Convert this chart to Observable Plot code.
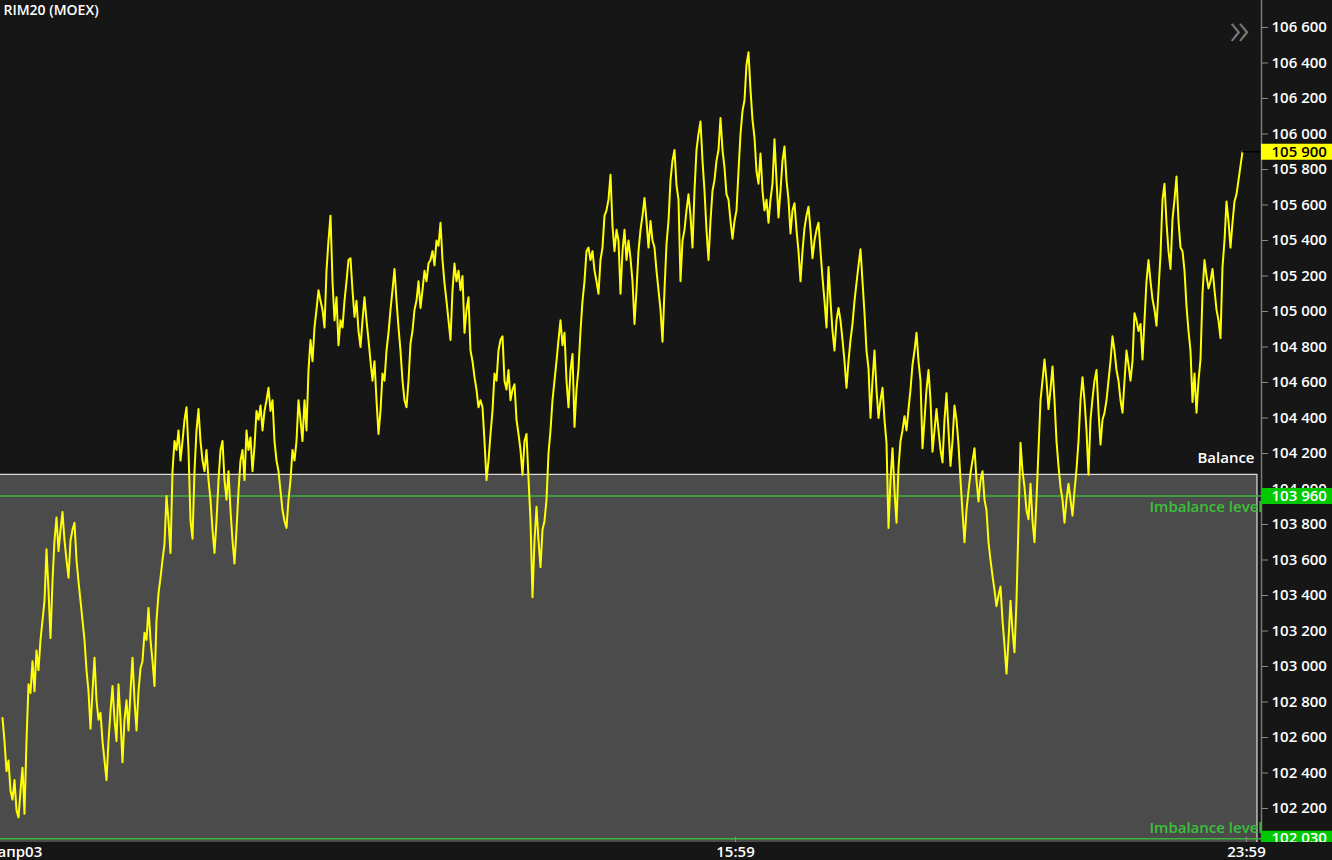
<!DOCTYPE html>
<html><head><meta charset="utf-8">
<script src="https://cdn.jsdelivr.net/npm/d3@7"></script>
<script src="https://cdn.jsdelivr.net/npm/@observablehq/plot@0.6"></script>
<style>html,body{margin:0;padding:0;background:#161616;overflow:hidden}</style>
</head><body><div id="chart"></div>
<script>
const title = "RIM20 (MOEX)";
// price per bar
const prices = [
102710,102580,102410,102470,102300,102250,102360,102190,102150,102300,
102430,102170,102580,102900,102850,103030,102860,103090,102980,103150,
103260,103370,103660,103430,103160,103480,103710,103840,103650,103770,
103870,103710,103600,103500,103710,103770,103810,103600,103480,103370,
103260,103150,102980,102860,102650,102860,103050,102810,102700,102740,
102580,102470,102360,102580,102750,102890,102700,102580,102900,102700,
102460,102700,102810,102640,102860,103050,102810,102640,102860,102990,
103030,103190,103150,103330,103150,103030,102890,103260,103410,103500,
103600,103690,103960,103820,103640,
104100,104270,104220,104330,104160,104270,104390,104460,104220,103820,
103720,104100,104330,104450,104270,104160,104100,104220,104050,103940,
103770,103640,103820,104050,104220,104270,104050,103940,104100,103880,
103710,103580,103770,103990,104160,104220,104050,104330,104220,104290,
104100,104240,104440,104390,104470,104330,104440,104500,104570,104440,
104500,104270,104160,104100,103990,103880,103820,103780,103940,104050,
104220,104160,104270,104500,
104390,104270,104500,104330,104670,104840,104720,104910,105010,105120,
105060,105010,104910,105230,105400,105540,105170,104950,105080,104810,
104950,104910,105060,105170,105290,105300,105120,104970,105060,104890,
104800,104950,105080,104950,104840,104720,104610,104720,104500,104310,
104440,104650,104610,104780,104880,105010,105120,105240,105060,104910,
104780,104610,104500,104460,104610,104820,104890,105010,105060,105170,
105020,105120,105230,105170,105270,105290,105340,105260,105400,105370,
105500,105290,105160,105060,104950,104840,105120,105270,105170,105230,
105120,105200,104880,105010,105080,104780,104720,104630,104560,104460,
104500,104460,104270,104050,104160,104310,104440,104650,104610,104780,
104840,104860,104610,104560,104670,104500,104560,104590,104390,104310,
104220,104080,104270,104310,104060,103820,103390,103710,103900,103710,
103560,103770,103820,103940,104200,104330,104500,104610,104720,104840,
104950,104810,104880,104610,104460,104670,104760,104350,104560,104680,
104890,105060,105170,105340,105360,105290,105340,105230,105170,105100,
105290,105360,105540,105570,105630,105770,105480,105340,105460,105400,
105100,105340,105460,105290,105400,105300,105170,104930,105120,105340,
105460,105540,105640,105510,105360,105510,105400,105360,105230,105120,
105010,104830,105120,105380,105510,105740,105850,105910,105710,105630,
105170,105400,105460,105570,105660,105540,105360,105680,105910,106000,
106070,105850,105680,105460,105290,105510,105680,105740,105850,105910,
106090,105910,105810,105660,105630,105510,105410,105510,105570,105790,
106000,106130,106190,106390,106460,106250,106080,105980,105790,105720,
105890,105680,105570,105630,105500,105630,105720,105970,105740,105530,
105680,105850,105930,105740,105630,105440,105570,105610,105460,105340,
105170,105340,105470,105540,105590,105460,105300,105400,105460,105500,
105340,105190,105060,104910,105250,105060,104890,104780,104950,105020,
104950,104840,104720,104570,104720,104840,104930,105060,105160,105260,
105350,105170,104990,104780,104680,104400,104610,104780,104560,104400,
104500,104570,104390,104260,103780,104050,104230,103990,103810,104120,
104270,
104330,104410,104330,104450,104560,104700,104780,104880,104720,104610,
104230,104390,104560,104670,104500,104210,104330,104450,104330,104220,
104150,104390,104540,104330,104130,104270,104470,104390,104250,104050,
103870,103700,103880,103990,104090,104160,104230,104050,103930,104050,
104100,103940,103880,103700,103600,103510,103430,103340,103400,103450,
103260,103120,102960,103150,103370,103200,103080,103370,103810,104260,
104100,104010,103880,103830,104030,103820,103700,103940,104220,104500,
104610,104730,104610,104450,104560,104690,104500,104270,104130,104010,
103940,103810,103940,104030,103940,103850,103990,104110,104270,104500,
104630,104500,104330,104080,104390,104510,104610,104670,104440,104250,
104390,104430,104500,104610,104720,104860,104780,104670,104610,104500,
104430,104610,104780,104700,104610,104720,104990,104950,104890,104930,
104730,104950,105170,105290,105170,105070,105010,104920,105120,105320,
105630,105720,105500,105340,105240,105520,105630,105760,105510,105360,
105340,105230,105030,104890,104780,104490,104650,104430,104610,104730,
105100,105290,105200,105130,105170,105240,105120,105010,104950,104850,
105250,105400,105620,105510,105360,105500,105620,105660,105740,105820,
105900
];
const lastPrice = 105900;
const balanceLevel = 104080;
const balanceEndBar = 627.5;
const imbalanceLevels = [103960, 102030];
const yTicks = d3.range(102200, 106601, 200);
const xTickLabels = ["апр03", "15:59", "23:59"];
const xTickBars = [-2.5, 366.5, 622];

const BG = "#161616";
const FONT = "'Open Sans', 'Noto Sans', sans-serif";
const xMin = -1, xMax = 629.5;
const yMin = 102008.5, yMax = 106752;
const fmt = d => d3.format(",")(d).replace(/,/g, " ");

const chart = Plot.plot({
  width: 1332, height: 860,
  marginLeft: 0, marginRight: 71, marginTop: 0, marginBottom: 18,
  style: {background: BG, color: "white", fontFamily: FONT},
  x: {domain: [xMin, xMax], axis: null},
  y: {domain: [yMin, yMax], axis: null},
  marks: [
    Plot.rect([balanceLevel], {x1: xMin - 5, x2: balanceEndBar, y1: d => d, y2: yMin - 100,
      fill: "#4b4b4b", stroke: "#ffffff", strokeWidth: 1, clip: true}),
    Plot.ruleY(imbalanceLevels, {stroke: "#3cb43c", strokeWidth: 1.5, clip: true}),
    Plot.line(prices, {x: (d, i) => i, y: d => d, stroke: "#ffff00", strokeWidth: 2, clip: true}),
    Plot.ruleY([lastPrice], {x1: prices.length - 1, x2: xMax, stroke: "#000000", strokeWidth: 1.5}),
    Plot.text(["Balance"], {x: balanceEndBar, y: balanceLevel, text: d => d, textAnchor: "end",
      lineAnchor: "middle", dx: -3, dy: -17, fill: "#ffffff", fontSize: 15, fontWeight: 600}),
    Plot.text([imbalanceLevels[0]], {x: xMax, y: d => d, text: () => "Imbalance level", textAnchor: "end",
      lineAnchor: "middle", dx: 1, dy: 11, fill: "#3cc03c", fontSize: 15, fontWeight: 600, clip: true}),
    Plot.text([imbalanceLevels[1]], {x: xMax, y: d => d, text: () => "Imbalance level", textAnchor: "end",
      lineAnchor: "middle", dx: 1, dy: -10, fill: "#3cc03c", fontSize: 15, fontWeight: 600, clip: true}),
    Plot.ruleX([xMax], {stroke: "#7a7a7a", strokeWidth: 1.5}),
    Plot.axisY(yTicks, {anchor: "right", tickSize: 6, tickPadding: 4, tickFormat: fmt, label: null,
      stroke: "#8a8a8a", fill: "#ffffff", fontSize: 15, fontWeight: 600}),
    Plot.ruleY([lastPrice], {x1: xMax, x2: xMax + 40, stroke: "#ffff00", strokeWidth: 16}),
    Plot.text([lastPrice], {x: xMax, y: d => d, text: fmt, dx: 10, textAnchor: "start",
      lineAnchor: "middle", fill: "#000000", fontSize: 15, fontWeight: 600}),
    Plot.ruleY(imbalanceLevels, {x1: xMax, x2: xMax + 40, stroke: "#00c800", strokeWidth: 16}),
    Plot.text(imbalanceLevels, {x: xMax, y: d => d, text: fmt, dx: 10, textAnchor: "start",
      lineAnchor: "middle", fill: "#ffffff", fontSize: 15, fontWeight: 600}),
    Plot.rect([0], {x1: xMax, x2: xMax + 40, y1: yMin - 200, y2: yMin, fill: BG}),
    Plot.ruleX(xTickBars.slice(1), {y1: yMin, y2: yMin + 30, stroke: "#8a8a8a"}),
    Plot.text(xTickLabels.slice(0, 1), {x: xTickBars.slice(0, 1), text: d => d, frameAnchor: "bottom",
      lineAnchor: "middle", dy: 10, textAnchor: "start", fill: "#ffffff", fontSize: 15, fontWeight: 600}),
    Plot.text(xTickLabels.slice(1), {x: xTickBars.slice(1), text: d => d, frameAnchor: "bottom",
      lineAnchor: "middle", dy: 10, textAnchor: "middle", fill: "#ffffff", fontSize: 15, fontWeight: 600}),
    Plot.text([title], {frameAnchor: "top-left", dx: 3, dy: 10, textAnchor: "start", lineAnchor: "middle",
      fill: "#ffffff", fontSize: 14, fontWeight: 600}),
    Plot.text(["»"], {frameAnchor: "top-right", dx: -22, dy: 30, textAnchor: "middle", lineAnchor: "middle",
      fill: "#7a7a7a", fontSize: 46, fontWeight: 300})
  ]
});
document.getElementById("chart").appendChild(chart);
</script>
</body></html>
